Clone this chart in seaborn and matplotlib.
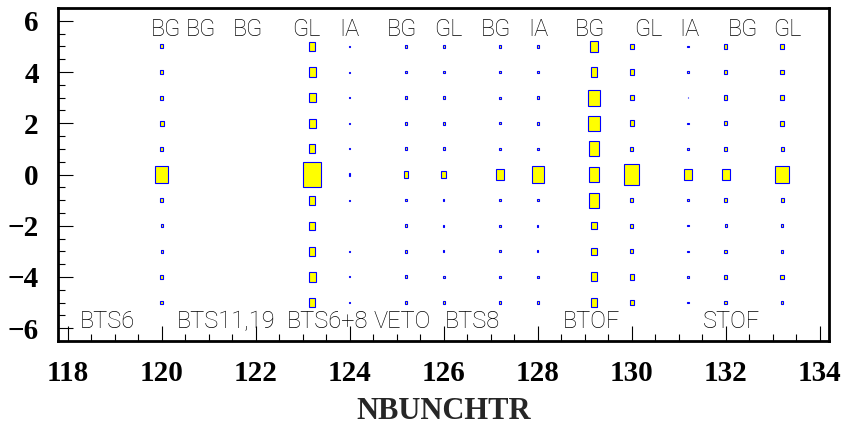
import numpy as np
import pandas as pd
import seaborn as sns
import matplotlib
matplotlib.use("Agg")
import matplotlib.pyplot as plt
from matplotlib.ticker import MultipleLocator

# ---------------- data ----------------
nbunch = [120.0, 123.2, 124.0, 125.2, 126.0, 127.2, 128.0, 129.2, 130.0, 131.2, 132.0, 133.2]
yvals = [5, 4, 3, 2, 1, 0, -1, -2, -3, -4, -5]
# relative cell contents (max = 100), one list per NBUNCHTR column, rows y = 5 .. -5
c120_0 = [16, 16, 16, 20, 16, 70, 15, 12, 12, 15, 15]
c123_2 = [36, 37, 37, 37, 35, 100, 35, 33, 35, 37, 33]
c124_0 = [4, 4, 4, 4, 4, 8, 4, 0, 4, 4, 4]
c125_2 = [10, 10, 12, 12, 12, 24, 10, 10, 10, 12, 10]
c126_0 = [11, 11, 11, 11, 11, 24, 9, 9, 9, 11, 11]
c127_2 = [9, 9, 9, 9, 9, 40, 9, 9, 7, 9, 9]
c128_0 = [12, 10, 10, 10, 10, 63, 10, 8, 8, 10, 10]
c129_2 = [40, 36, 62, 60, 58, 55, 58, 27, 30, 35, 35]
c130_0 = [22, 22, 22, 22, 18, 80, 16, 16, 16, 21, 20]
c131_2 = [6, 6, 5, 6, 6, 42, 6, 6, 6, 6, 6]
c132_0 = [17, 16, 17, 17, 13, 42, 13, 10, 13, 16, 13]
c133_2 = [18, 18, 18, 20, 16, 70, 16, 13, 13, 18, 13]
columns = [c120_0, c123_2, c124_0, c125_2, c126_0, c127_2,
           c128_0, c129_2, c130_0, c131_2, c132_0, c133_2]

top_labels = ["BG", "BG", "BG", "GL", "IA", "BG", "GL", "BG", "IA", "BG", "GL", "IA", "BG", "GL"]
top_label_x = [120.09, 120.84, 121.84, 123.07, 123.99, 125.11, 126.09, 127.11,
               128.01, 129.11, 130.35, 131.23, 132.36, 133.32]
bottom_labels = ["BTS6", "BTS11,19", "BTS6+8", "VETO", "BTS8", "BTOF", "STOF"]
bottom_label_x = [118.85, 121.38, 123.52, 125.12, 126.61, 129.14, 132.12]

xlabel = "NBUNCHTR"

# ---------------- build table ----------------
rows = []
for xv, col in zip(nbunch, columns):
    for yv, cv in zip(yvals, col):
        rows.append((xv, yv, cv))
df = pd.DataFrame(rows, columns=["x", "y", "content"])
df = df[df["content"] > 0]

bin_w = 0.4
bin_h = 1.0
frac = df["content"] / df["content"].max()
df["w"] = bin_w * frac
df["h"] = bin_h * frac

# ---------------- plotting ----------------
sns.set_style("white")
fig = plt.figure(figsize=(8.47, 4.26), dpi=100)
ax = fig.add_axes([58.3 / 847, 1 - 341 / 426, (829 - 58.3) / 847, 333 / 426])

ax.bar(df["x"], df["h"], width=df["w"], bottom=df["y"] - df["h"] / 2,
       color="#ffff00", edgecolor="#0000ff", linewidth=0.8, align="center", zorder=3)

ax.set_xlim(117.8, 134.2)
ax.set_ylim(-6.5, 6.5)

ax.xaxis.set_major_locator(MultipleLocator(2))
ax.xaxis.set_minor_locator(MultipleLocator(0.5))
ax.yaxis.set_major_locator(MultipleLocator(2))
ax.yaxis.set_minor_locator(MultipleLocator(0.5))
ax.tick_params(which="both", direction="in", bottom=True, left=True, top=False, right=False,
               colors="black", width=0.8)
ax.tick_params(which="major", length=10.5, pad=14)
ax.tick_params(which="minor", length=5)

for lab in ax.get_xticklabels() + ax.get_yticklabels():
    lab.set_fontfamily("Liberation Serif")
    lab.set_fontweight("bold")
    lab.set_fontsize(21)

for sp in ax.spines.values():
    sp.set_color("black")
    sp.set_linewidth(2.0)
    sp.set_visible(True)

ax.set_xlabel(xlabel, fontfamily="Liberation Serif", fontweight="bold", fontsize=22, va="center")
ax.xaxis.set_label_coords(0.5, -0.213)

txt_kw = dict(fontfamily=["Roboto", "DejaVu Sans"], fontweight="light", fontsize=17,
              color="black", ha="center", va="baseline", zorder=4)
for lab, xv in zip(top_labels, top_label_x):
    ax.text(xv, 5.42, lab, **txt_kw)
for lab, xv in zip(bottom_labels, bottom_label_x):
    ax.text(xv, -6.0, lab, **txt_kw)

fig.savefig("out.png", dpi=100)
